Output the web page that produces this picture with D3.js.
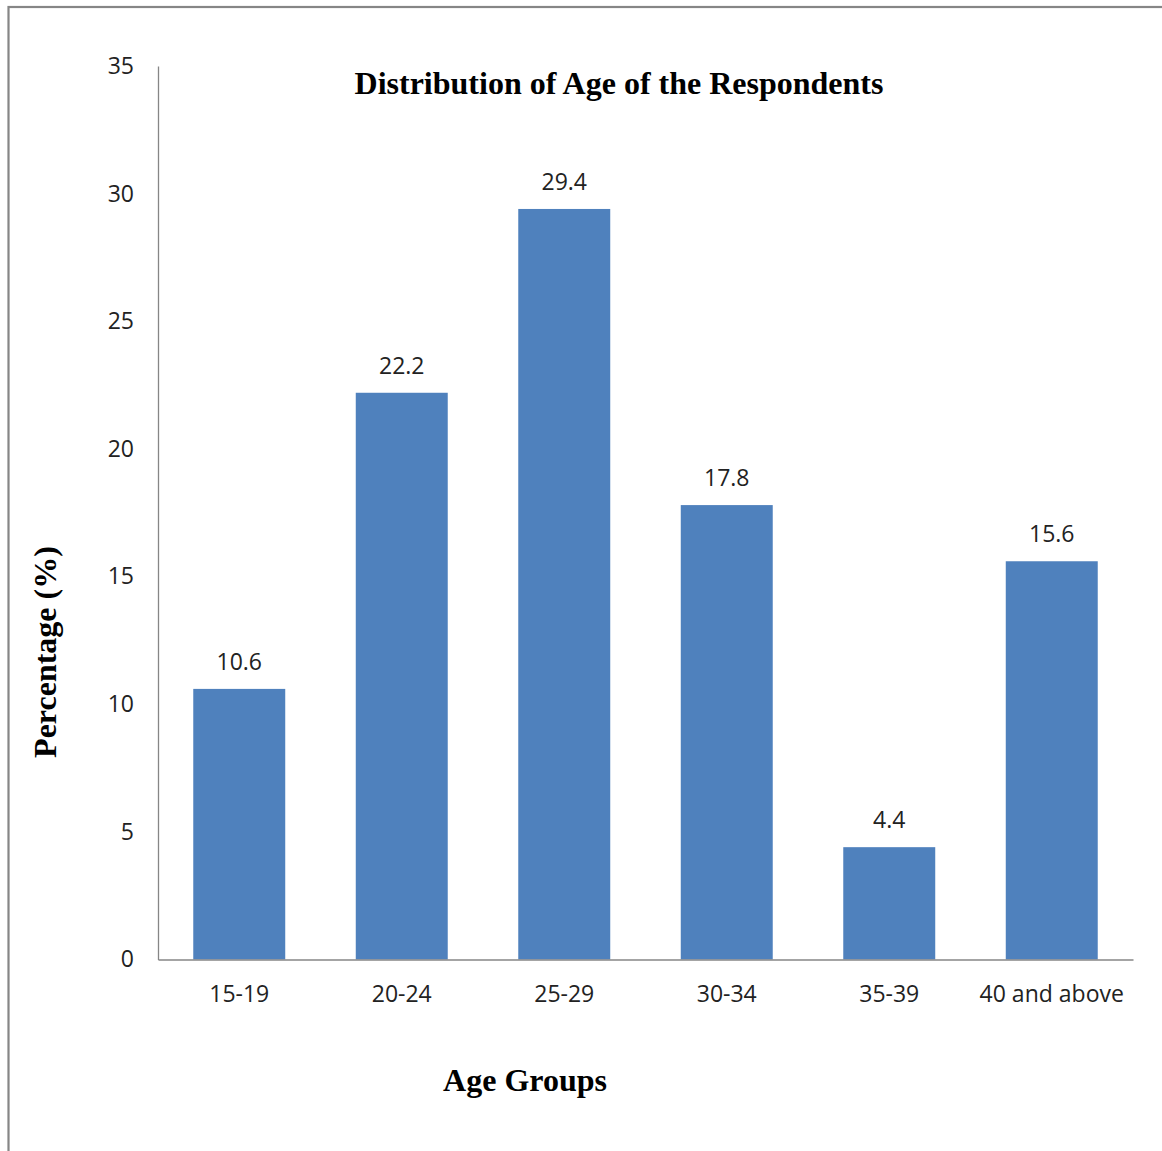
<!DOCTYPE html>
<html>
<head>
<meta charset="utf-8">
<script src="https://cdn.jsdelivr.net/npm/d3@7"></script>
<style>
	body { margin: 0; background: #fff; }
	svg { display: block; }
</style>
</head>
<body>
<div id="chart"></div>
<script>
// chart data
const age_groups = ["15-19", "20-24", "25-29", "30-34", "35-39", "40 and above"];
const percentages = [10.6, 22.2, 29.4, 17.8, 4.4, 15.6];
const y_ticks = [0, 5, 10, 15, 20, 25, 30, 35];

const width = 1162,
	height = 1151;
const margin = { top: 66, right: 29, bottom: 191.5, left: 158 };

const svg = d3
	.select("#chart")
	.append("svg")
	.attr("width", width)
	.attr("height", height);

// outer frame (only left and top edges are visible in the picture)
svg.append("rect")
	.attr("x", 8.5)
	.attr("y", 7)
	.attr("width", width + 20)
	.attr("height", height + 20)
	.attr("fill", "none")
	.attr("stroke", "#868686")
	.attr("stroke-width", 2.2);

const x = d3
	.scaleBand()
	.domain(age_groups)
	.range([margin.left, width - margin.right])
	.paddingInner(0.434)
	.paddingOuter(0.217);

const y = d3
	.scaleLinear()
	.domain([0, 35])
	.range([height - margin.bottom, margin.top]);

const tick_font = "'Open Sans', 'DejaVu Sans', sans-serif";
const title_font = "'Liberation Serif', 'Times New Roman', serif";

// y axis
const y_axis = svg
	.append("g")
	.attr("transform", "translate(" + margin.left + ",0)")
	.call(d3.axisLeft(y).tickValues(y_ticks).tickSize(0).tickPadding(24));
y_axis.select(".domain").attr("stroke", "#868686").attr("stroke-width", 1.3);
y_axis
	.selectAll("text")
	.attr("font-family", tick_font)
	.attr("font-size", 23)
	.attr("fill", "#222");

// bars
svg.selectAll("rect.bar")
	.data(percentages)
	.enter()
	.append("rect")
	.attr("class", "bar")
	.attr("x", (d, i) => x(age_groups[i]))
	.attr("y", (d) => y(d))
	.attr("width", x.bandwidth())
	.attr("height", (d) => y(0) - y(d))
	.attr("fill", "#4F81BD");

// value labels
svg.selectAll("text.value")
	.data(percentages)
	.enter()
	.append("text")
	.attr("class", "value")
	.attr("x", (d, i) => x(age_groups[i]) + x.bandwidth() / 2)
	.attr("y", (d) => y(d) - 19)
	.attr("text-anchor", "middle")
	.attr("font-family", tick_font)
	.attr("font-size", 23)
	.attr("fill", "#222")
	.text((d) => d.toFixed(1));

// x axis
const x_axis = svg
	.append("g")
	.attr("transform", "translate(0," + y(0) + ")")
	.call(d3.axisBottom(x).tickSize(0).tickPadding(26));
x_axis.select(".domain").attr("stroke", "#868686").attr("stroke-width", 1.3);
x_axis
	.selectAll("text")
	.attr("font-family", tick_font)
	.attr("font-size", 23)
	.attr("fill", "#222");

// titles
svg.append("text")
	.attr("x", 619)
	.attr("y", 94)
	.attr("text-anchor", "middle")
	.attr("font-family", title_font)
	.attr("font-weight", "bold")
	.attr("font-size", 32)
	.text("Distribution of Age of the Respondents");

svg.append("text")
	.attr("x", 525)
	.attr("y", 1091)
	.attr("text-anchor", "middle")
	.attr("font-family", title_font)
	.attr("font-weight", "bold")
	.attr("font-size", 32)
	.text("Age Groups");

svg.append("text")
	.attr("transform", "translate(56,652) rotate(-90)")
	.attr("text-anchor", "middle")
	.attr("font-family", title_font)
	.attr("font-weight", "bold")
	.attr("font-size", 32)
	.text("Percentage (%)");
</script>
</body>
</html>
